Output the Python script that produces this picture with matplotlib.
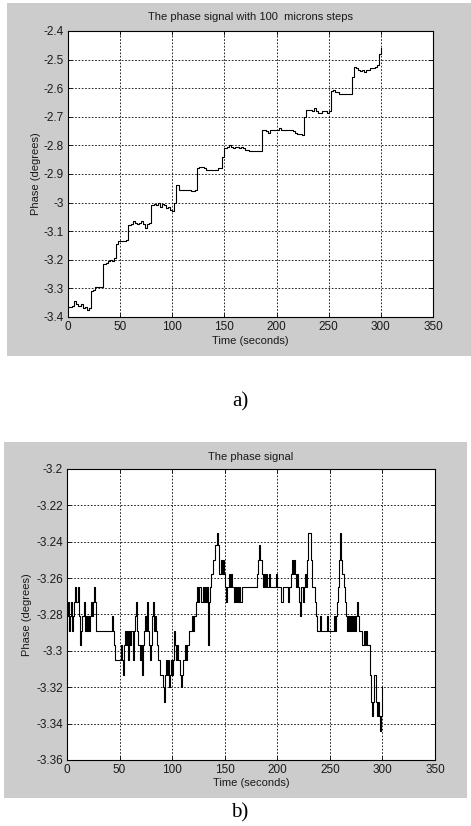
import numpy as np
import matplotlib
matplotlib.use("Agg")
import matplotlib.pyplot as plt
from matplotlib.patches import Rectangle

# ---- data ----
# a) phase signal with 100 micron steps, sampled every 2 s
time_a = list(range(0, 301, 2))
phase_a = [
    -3.365, -3.365, -3.360, -3.345, -3.355, -3.360, -3.355, -3.370, -3.365, -3.375,
    -3.370, -3.310, -3.305, -3.295, -3.295, -3.295, -3.295, -3.215, -3.210, -3.205,
    -3.200, -3.205, -3.195, -3.145, -3.135, -3.135, -3.135, -3.135, -3.130, -3.080,
    -3.075, -3.065, -3.070, -3.075, -3.070, -3.065, -3.075, -3.090, -3.075, -3.070,
    -3.010, -3.005, -3.010, -3.000, -3.015, -3.005, -3.010, -3.020, -3.015, -3.025,
    -3.030, -3.000, -2.940, -2.955, -2.955, -2.955, -2.955, -2.955, -2.955, -2.960,
    -2.960, -2.955, -2.880, -2.875, -2.875, -2.880, -2.885, -2.885, -2.885, -2.885,
    -2.885, -2.885, -2.880, -2.880, -2.840, -2.810, -2.805, -2.800, -2.805, -2.810,
    -2.805, -2.805, -2.810, -2.805, -2.810, -2.815, -2.815, -2.820, -2.820, -2.820,
    -2.820, -2.820, -2.820, -2.745, -2.745, -2.750, -2.755, -2.745, -2.745, -2.745,
    -2.745, -2.740, -2.745, -2.745, -2.745, -2.745, -2.745, -2.745, -2.750, -2.755,
    -2.760, -2.760, -2.765, -2.700, -2.675, -2.675, -2.675, -2.680, -2.670, -2.680,
    -2.685, -2.685, -2.680, -2.680, -2.685, -2.680, -2.610, -2.605, -2.615, -2.615,
    -2.620, -2.620, -2.620, -2.620, -2.620, -2.620, -2.560, -2.525, -2.530, -2.535,
    -2.540, -2.535, -2.545, -2.535, -2.535, -2.530, -2.530, -2.525, -2.520, -2.480,
    -2.460,
]

# b) phase signal without steps, sampled every 1 s
time_b = list(range(0, 301))
phase_b = [
    -3.281, -3.273, -3.289, -3.281, -3.273, -3.289, -3.281, -3.273, -3.265, -3.273,
    -3.265, -3.281, -3.297, -3.289, -3.281, -3.281, -3.273, -3.289, -3.281, -3.289,
    -3.281, -3.289, -3.281, -3.273, -3.281, -3.273, -3.265, -3.273, -3.289, -3.289,
    -3.289, -3.289, -3.289, -3.289, -3.289, -3.289, -3.289, -3.289, -3.289, -3.289,
    -3.289, -3.289, -3.289, -3.281, -3.289, -3.297, -3.305, -3.305, -3.305, -3.305,
    -3.305, -3.297, -3.305, -3.313, -3.297, -3.289, -3.297, -3.289, -3.305, -3.289,
    -3.297, -3.289, -3.289, -3.305, -3.289, -3.281, -3.273, -3.289, -3.297, -3.305,
    -3.297, -3.313, -3.297, -3.289, -3.281, -3.289, -3.273, -3.289, -3.297, -3.305,
    -3.297, -3.281, -3.273, -3.289, -3.281, -3.289, -3.297, -3.305, -3.313, -3.313,
    -3.313, -3.320, -3.328, -3.313, -3.305, -3.313, -3.305, -3.320, -3.313, -3.305,
    -3.313, -3.305, -3.289, -3.297, -3.305, -3.297, -3.305, -3.313, -3.320, -3.313,
    -3.305, -3.305, -3.297, -3.305, -3.297, -3.297, -3.289, -3.289, -3.289, -3.281,
    -3.289, -3.281, -3.281, -3.273, -3.265, -3.273, -3.265, -3.273, -3.273, -3.265,
    -3.273, -3.265, -3.273, -3.265, -3.297, -3.273, -3.265, -3.258, -3.258, -3.250,
    -3.250, -3.242, -3.242, -3.235, -3.242, -3.258, -3.250, -3.258, -3.250, -3.258,
    -3.265, -3.273, -3.265, -3.265, -3.258, -3.265, -3.258, -3.265, -3.265, -3.273,
    -3.265, -3.273, -3.265, -3.273, -3.265, -3.273, -3.265, -3.265, -3.265, -3.265,
    -3.265, -3.265, -3.265, -3.265, -3.265, -3.265, -3.265, -3.265, -3.265, -3.265,
    -3.265, -3.258, -3.250, -3.242, -3.250, -3.258, -3.265, -3.258, -3.265, -3.258,
    -3.265, -3.265, -3.258, -3.265, -3.265, -3.265, -3.265, -3.265, -3.265, -3.258,
    -3.265, -3.265, -3.265, -3.265, -3.273, -3.265, -3.265, -3.265, -3.265, -3.265,
    -3.273, -3.265, -3.265, -3.258, -3.250, -3.258, -3.250, -3.258, -3.265, -3.258,
    -3.265, -3.273, -3.281, -3.265, -3.273, -3.265, -3.258, -3.265, -3.250, -3.235,
    -3.235, -3.235, -3.250, -3.265, -3.265, -3.265, -3.273, -3.281, -3.289, -3.289,
    -3.289, -3.281, -3.289, -3.289, -3.289, -3.289, -3.289, -3.281, -3.289, -3.289,
    -3.289, -3.289, -3.289, -3.289, -3.281, -3.289, -3.281, -3.273, -3.265, -3.250,
    -3.235, -3.250, -3.258, -3.265, -3.273, -3.281, -3.289, -3.281, -3.289, -3.281,
    -3.289, -3.281, -3.289, -3.281, -3.289, -3.281, -3.273, -3.281, -3.289, -3.289,
    -3.289, -3.297, -3.289, -3.297, -3.289, -3.297, -3.297, -3.297, -3.313, -3.328,
    -3.336, -3.328, -3.313, -3.313, -3.328, -3.336, -3.328, -3.336, -3.344, -3.336,
    -3.320,
]

xticks = [0, 50, 100, 150, 200, 250, 300, 350]
yticks_a = [-2.4, -2.5, -2.6, -2.7, -2.8, -2.9, -3.0, -3.1, -3.2, -3.3, -3.4]
ylabels_a = ["-2.4", "-2.5", "-2.6", "-2.7", "-2.8", "-2.9", "-3",
             "-3.1", "-3.2", "-3.3", "-3.4"]
yticks_b = [-3.2, -3.22, -3.24, -3.26, -3.28, -3.3, -3.32, -3.34, -3.36]
ylabels_b = ["-3.2", "-3.22", "-3.24", "-3.26", "-3.28", "-3.3",
             "-3.32", "-3.34", "-3.36"]

W, H = 471, 826
GREY = "#cccccc"
TXT = "#1a1a1a"
FS = 8
TFS = 8.5
FONT = "Liberation Sans"


def box(x0, y0, x1, y1):
    # pixel box (top-left origin) -> figure fraction rect
    return [x0 / W, 1 - y1 / H, (x1 - x0) / W, (y1 - y0) / H]


def fpt(x, y):
    return x / W, 1 - y / H


fig = plt.figure(figsize=(W / 100, H / 100), dpi=100)
fig.patch.set_facecolor("white")


def panel(bg, ax_box, t, v, yt, yl, ylim, title, title_y, xlab_y, ylab_x):
    fig.patches.append(Rectangle((bg[0], bg[1]), bg[2], bg[3],
                                 transform=fig.transFigure, facecolor=GREY,
                                 edgecolor="none", zorder=-10))
    ax = fig.add_axes(ax_box)
    ax.set_facecolor("white")
    ax.plot(t, v, drawstyle="steps-post", color="black", lw=0.8)
    ax.set_xlim(0, 350)
    ax.set_ylim(*ylim)
    ax.set_xticks(xticks)
    ax.set_xticklabels([str(x) for x in xticks], fontsize=TFS, color=TXT,
                       family=FONT)
    ax.set_yticks(yt)
    ax.set_yticklabels(yl, fontsize=TFS, color=TXT, family=FONT)
    ax.tick_params(direction="in", length=3, width=0.6, top=True, right=True,
                   pad=3)
    ax.grid(True, color="black", linestyle=(0, (2, 2)), linewidth=0.6)
    for s in ax.spines.values():
        s.set_linewidth(0.8)
    cx = ax_box[0] + ax_box[2] / 2
    fig.text(cx, title_y, title, ha="center", va="center", fontsize=FS,
             color=TXT, family=FONT)
    fig.text(cx, xlab_y, "Time (seconds)", ha="center", va="center",
             fontsize=FS, color=TXT, family=FONT)
    fig.text(ylab_x, ax_box[1] + ax_box[3] / 2, "Phase (degrees)",
             ha="center", va="center", rotation=90, fontsize=FS, color=TXT,
             family=FONT)
    return ax


# a)
panel(box(7, 3, 471, 356), box(68, 31, 433, 317), time_a, phase_a,
      yticks_a, ylabels_a, (-3.4, -2.4),
      "The phase signal with 100  microns steps",
      fpt(0, 17)[1], fpt(0, 341)[1], 36 / W)
fig.text(*fpt(240, 402), "a)", ha="center", va="center", fontsize=15,
         family="Liberation Serif")

# b)
panel(box(4, 442, 467, 798), box(67, 469, 435, 760), time_b, phase_b,
      yticks_b, ylabels_b, (-3.36, -3.2),
      "The phase signal",
      fpt(0, 457)[1], fpt(0, 783)[1], 27 / W)
fig.text(*fpt(240, 813), "b)", ha="center", va="center", fontsize=15,
         family="Liberation Serif")

fig.savefig("out.png", dpi=100)
